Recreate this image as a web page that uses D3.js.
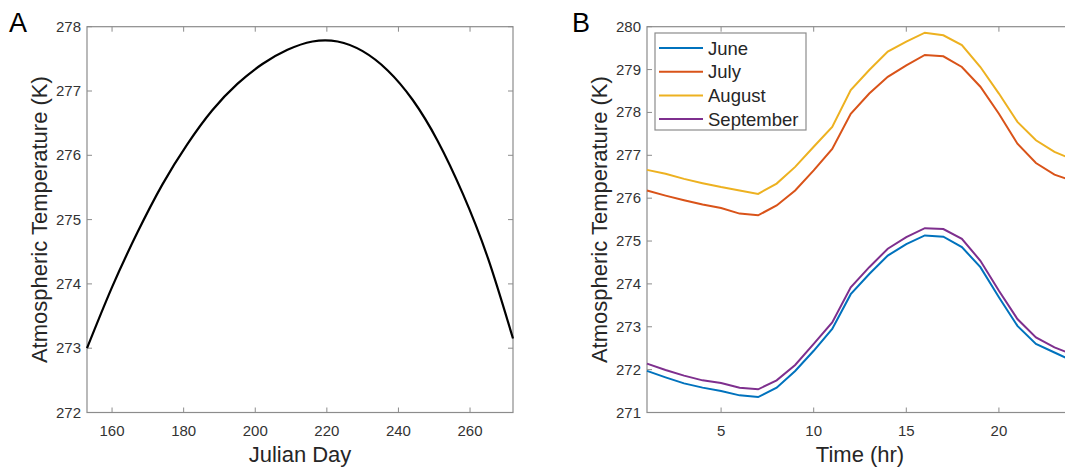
<!DOCTYPE html>
<html>
<head>
<meta charset="utf-8">
<script src="https://cdn.jsdelivr.net/npm/d3@7"></script>
<style>
    body { margin: 0; background: #fff; }
    svg { display: block; font-family: "Liberation Sans", Arial, sans-serif; }
</style>
</head>
<body>
<div id="chart"></div>
<script>
// panel A: seasonal curve
var julianDays = [153, 160, 167, 174, 181, 188, 195, 202, 209, 216, 223, 230, 237, 244, 251, 258, 265, 272];
var seasonalTemp = [273.0, 273.95, 274.79, 275.54, 276.17, 276.7, 277.11, 277.42, 277.64, 277.77, 277.77, 277.62, 277.32, 276.86, 276.22, 275.4, 274.4, 273.15];
var dayTicks = [160, 180, 200, 220, 240, 260];
var tempTicksA = [272, 273, 274, 275, 276, 277, 278];

// panel B: diurnal curves per month
var hours = [1, 2, 3, 4, 5, 6, 7, 8, 9, 10, 11, 12, 13, 14, 15, 16, 17, 18, 19, 20, 21, 22, 23, 24];
var months = ["June", "July", "August", "September"];
var juneTemp = [271.97, 271.82, 271.68, 271.58, 271.5, 271.4, 271.36, 271.58, 271.97, 272.44, 272.95, 273.76, 274.23, 274.66, 274.93, 275.13, 275.1, 274.86, 274.39, 273.69, 273.02, 272.6, 272.4, 272.2];
var julyTemp = [276.18, 276.06, 275.95, 275.85, 275.77, 275.64, 275.6, 275.83, 276.18, 276.65, 277.15, 277.97, 278.44, 278.83, 279.1, 279.34, 279.31, 279.06, 278.6, 277.97, 277.27, 276.82, 276.55, 276.4];
var augustTemp = [276.66, 276.57, 276.45, 276.35, 276.26, 276.18, 276.1, 276.34, 276.73, 277.2, 277.66, 278.52, 278.99, 279.42, 279.65, 279.86, 279.8, 279.57, 279.06, 278.44, 277.78, 277.35, 277.08, 276.9];
var septemberTemp = [272.14, 271.99, 271.86, 271.75, 271.69, 271.58, 271.54, 271.75, 272.11, 272.6, 273.1, 273.92, 274.39, 274.82, 275.09, 275.3, 275.28, 275.05, 274.54, 273.84, 273.18, 272.75, 272.52, 272.35];
var hourTicks = [5, 10, 15, 20];
var tempTicksB = [271, 272, 273, 274, 275, 276, 277, 278, 279, 280];
var monthColors = ["#0072BD", "#D95319", "#EDB120", "#7E2F8E"];

var svg = d3.select("#chart")
    .append("svg")
    .attr("width", 1065)
    .attr("height", 468);

// draws matlab-like box axes with inward ticks on all sides
function drawFrame(g, x, y, xTicks, yTicks, xTitle, yTitle, letter, letterX) {
    var x0 = x.range()[0], x1 = x.range()[1];
    var y0 = y.range()[0], y1 = y.range()[1];
    var axisColor = "#8c8c8c";

    g.append("rect")
        .attr("x", x0)
        .attr("y", y1)
        .attr("width", x1 - x0)
        .attr("height", y0 - y1)
        .attr("fill", "none")
        .attr("stroke", axisColor)
        .attr("stroke-width", 1.2);

    xTicks.forEach(function (t) {
        g.append("line").attr("x1", x(t)).attr("x2", x(t)).attr("y1", y0).attr("y2", y0 - 5)
            .attr("stroke", axisColor);
        g.append("line").attr("x1", x(t)).attr("x2", x(t)).attr("y1", y1).attr("y2", y1 + 5)
            .attr("stroke", axisColor);
        g.append("text")
            .attr("x", x(t))
            .attr("y", y0 + 23)
            .attr("text-anchor", "middle")
            .attr("font-size", "15px")
            .attr("fill", "#333")
            .text(t);
    });
    yTicks.forEach(function (t) {
        g.append("line").attr("x1", x0).attr("x2", x0 + 5).attr("y1", y(t)).attr("y2", y(t))
            .attr("stroke", axisColor);
        g.append("line").attr("x1", x1).attr("x2", x1 - 5).attr("y1", y(t)).attr("y2", y(t))
            .attr("stroke", axisColor);
        g.append("text")
            .attr("x", x0 - 6)
            .attr("y", y(t) + 5)
            .attr("text-anchor", "end")
            .attr("font-size", "15px")
            .attr("fill", "#333")
            .text(t);
    });

    g.append("text")
        .attr("x", (x0 + 426 / 2))
        .attr("y", 462)
        .attr("text-anchor", "middle")
        .attr("font-size", "22px")
        .attr("fill", "#262626")
        .text(xTitle);
    g.append("text")
        .attr("transform", "translate(" + (x0 - 40) + "," + ((y0 + y1) / 2) + ") rotate(-90)")
        .attr("text-anchor", "middle")
        .attr("font-size", "22px")
        .attr("fill", "#262626")
        .text(yTitle);
    g.append("text")
        .attr("x", letterX)
        .attr("y", 32)
        .attr("font-size", "27px")
        .attr("fill", "#000")
        .text(letter);
}

// ---- panel A
var xA = d3.scaleLinear().domain([153, 272]).range([87, 513]);
var yA = d3.scaleLinear().domain([272, 278]).range([412.5, 26.7]);
var gA = svg.append("g");
drawFrame(gA, xA, yA, dayTicks, tempTicksA, "Julian Day", "Atmospheric Temperature (K)", "A", 9);

var lineA = d3.line()
    .x(function (d, i) { return xA(julianDays[i]); })
    .y(function (d) { return yA(d); })
    .curve(d3.curveNatural);
gA.append("path")
    .datum(seasonalTemp)
    .attr("d", lineA)
    .attr("fill", "none")
    .attr("stroke", "#000")
    .attr("stroke-width", 2.2);

// ---- panel B
var xB = d3.scaleLinear().domain([1, 24]).range([647, 1073]);
var yB = d3.scaleLinear().domain([271, 280]).range([412.5, 26.7]);
var gB = svg.append("g");
drawFrame(gB, xB, yB, hourTicks, tempTicksB, "Time (hr)", "Atmospheric Temperature (K)", "B", 572);

var series = [juneTemp, julyTemp, augustTemp, septemberTemp];
var lineB = d3.line()
    .x(function (d, i) { return xB(hours[i]); })
    .y(function (d) { return yB(d); });
series.forEach(function (s, k) {
    gB.append("path")
        .datum(s)
        .attr("d", lineB)
        .attr("fill", "none")
        .attr("stroke", monthColors[k])
        .attr("stroke-width", 2);
});

// legend
var legend = gB.append("g").attr("transform", "translate(655,33)");
legend.append("rect")
    .attr("width", 151)
    .attr("height", 97)
    .attr("fill", "#fff")
    .attr("stroke", "#8c8c8c")
    .attr("stroke-width", 1.2);
months.forEach(function (m, i) {
    var yy = 15 + i * 23.7;
    legend.append("line")
        .attr("x1", 4).attr("x2", 48)
        .attr("y1", yy).attr("y2", yy)
        .attr("stroke", monthColors[i])
        .attr("stroke-width", 2);
    legend.append("text")
        .attr("x", 53)
        .attr("y", yy + 6.5)
        .attr("font-size", "18.5px")
        .attr("fill", "#262626")
        .text(m);
});
</script>
</body>
</html>
